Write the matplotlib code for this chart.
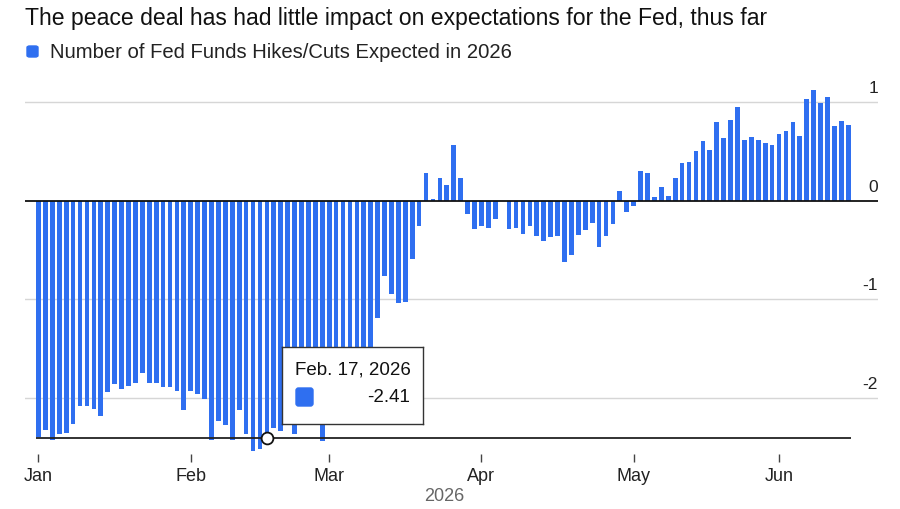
"""Bar chart: expected Fed funds hikes/cuts in 2026
"""

import numpy as np
import pandas as pd
import matplotlib
matplotlib.use('Agg')
import matplotlib.pyplot as plt
from matplotlib.patches import FancyBboxPatch

plt.rcParams['font.family'] = ['Liberation Sans', 'DejaVu Sans']

# weekdays from Jan 1 to Jun 15, 2026
dates = pd.bdate_range('2026-01-01', '2026-06-15')

# number of hikes (+) / cuts (-) priced for 2026, one value per weekday (nan = no data)
jan_values = [-2.40, -2.33, -2.43, -2.37, -2.36, -2.27, -2.09, -2.09, -2.12, -2.19,
              -1.94, -1.86, -1.91, -1.88, -1.85, -1.75, -1.85, -1.85, -1.89, -1.89,
              -1.93, -2.13]
feb_values = [-1.93, -1.96, -2.02, -2.43, -2.24, -2.28, -2.43, -2.13, -2.37, -2.54,
              -2.52, -2.41, -2.31, -2.34, -2.20, -2.37, -2.20, -2.15, -2.27, -2.44]
mar_values = [-2.25, -2.20, -2.10, -2.00, -1.85, -1.70, -1.52, -1.19, -0.76, -0.95,
              -1.04, -1.03, -0.59, -0.26, 0.28, 0.02, 0.23, 0.16, 0.57, 0.23,
              -0.13, -0.29]
apr_values = [-0.26, -0.28, -0.19, np.nan, -0.29, -0.28, -0.34, -0.26, -0.36, -0.41,
              -0.37, -0.36, -0.62, -0.55, -0.35, -0.30, -0.23, -0.47, -0.36, -0.24,
              0.10, -0.11]
may_values = [-0.05, 0.30, 0.28, 0.04, 0.14, 0.05, 0.23, 0.38, 0.39, 0.51,
              0.61, 0.52, 0.80, 0.64, 0.82, 0.95, 0.62, 0.65, 0.62, 0.59,
              0.57]
jun_values = [0.68, 0.71, 0.80, 0.66, 1.03, 1.13, 0.99, 1.05, 0.76, 0.81,
              0.77]

values = np.array(jan_values + feb_values + mar_values + apr_values + may_values + jun_values)

month_labels = ['Jan', 'Feb', 'Mar', 'Apr', 'May', 'Jun']
y_ticks = [1, 0, -1, -2]

hover_date = '2026-02-17'
hover_value = -2.41

TITLE = 'The peace deal has had little impact on expectations for the Fed, thus far'
LEGEND = 'Number of Fed Funds Hikes/Cuts Expected in 2026'
BLUE = '#2f6ff0'

fig = plt.figure(figsize=(9, 5.1), dpi=100)
ax = fig.add_axes([25 / 900, 1 - 455 / 510, 853 / 900, 380 / 510])

pos = np.arange(len(dates))
ok = ~np.isnan(values)
ax.bar(pos[ok], values[ok], width=0.68, color=BLUE, zorder=2)

ax.set_xlim(-1.95, 121.3)
ax.set_ylim(-2.574, 1.288)

# grid and zero line
for v in y_ticks:
    if v == 0:
        ax.axhline(0, color='#111111', lw=1.3, zorder=3)
    else:
        ax.axhline(v, color='#d6d6d6', lw=1.0, zorder=1)
    ax.annotate(str(v), xy=(1, v), xycoords=('axes fraction', 'data'),
                xytext=(0, 5), textcoords='offset points',
                ha='right', va='bottom', fontsize=12.5, color='#222222')

# month ticks at the first weekday of each month
month_pos = [int(np.argmax(dates.month == m)) for m in range(1, 7)]
ax.set_xticks(month_pos)
ax.set_xticklabels(month_labels, fontsize=13, color='#222222')
ax.tick_params(axis='x', length=6, width=1, color='#444444', pad=3.5)
ax.set_yticks([])
for s in ax.spines.values():
    s.set_visible(False)

ax.text(0.492, -0.108, '2026', transform=ax.transAxes, ha='center', va='center',
        fontsize=13, color='#666666')

# hover crosshair and marker
hover_idx = int(np.where(dates == pd.Timestamp(hover_date))[0][0])
ax.hlines(hover_value, -0.35, len(dates) - 0.65, color='#222222', lw=1.3, zorder=4)
ax.plot(hover_idx, hover_value, 'o', ms=8.5, mfc='white', mec='#111111', mew=1.3, zorder=6)

# tooltip box
tip_ax = fig.add_axes([282 / 900, 1 - 425 / 510, 141 / 900, 77 / 510], zorder=10)
tip_ax.set_xlim(0, 141)
tip_ax.set_ylim(77, 0)
tip_ax.set_xticks([])
tip_ax.set_yticks([])
for s in tip_ax.spines.values():
    s.set_color('#333333')
    s.set_linewidth(1.0)
tip_ax.text(13, 22, pd.Timestamp(hover_date).strftime('%b. %d, %Y').replace(' 0', ' '),
            fontsize=13.5, color='#111111', va='center', ha='left')
tip_ax.add_patch(FancyBboxPatch((14, 41), 17, 18, boxstyle='round,pad=0,rounding_size=2.5',
                                color=BLUE))
tip_ax.text(128, 50, f'{hover_value:.2f}', fontsize=13.5, color='#111111', va='center', ha='right')

# title and legend
fig.text(25 / 900, 1 - 18 / 510, TITLE, fontsize=16.6, color='#111111', va='center', ha='left')
fig.patches.append(FancyBboxPatch((27 / 900, 1 - 58 / 510), 11 / 900, 11 / 510,
                                  boxstyle='round,pad=0,rounding_size=0.003',
                                  transform=fig.transFigure, color=BLUE))
fig.text(50 / 900, 1 - 53 / 510, LEGEND, fontsize=14.6, color='#222222', va='center', ha='left')

fig.savefig('out.png', dpi=100)
